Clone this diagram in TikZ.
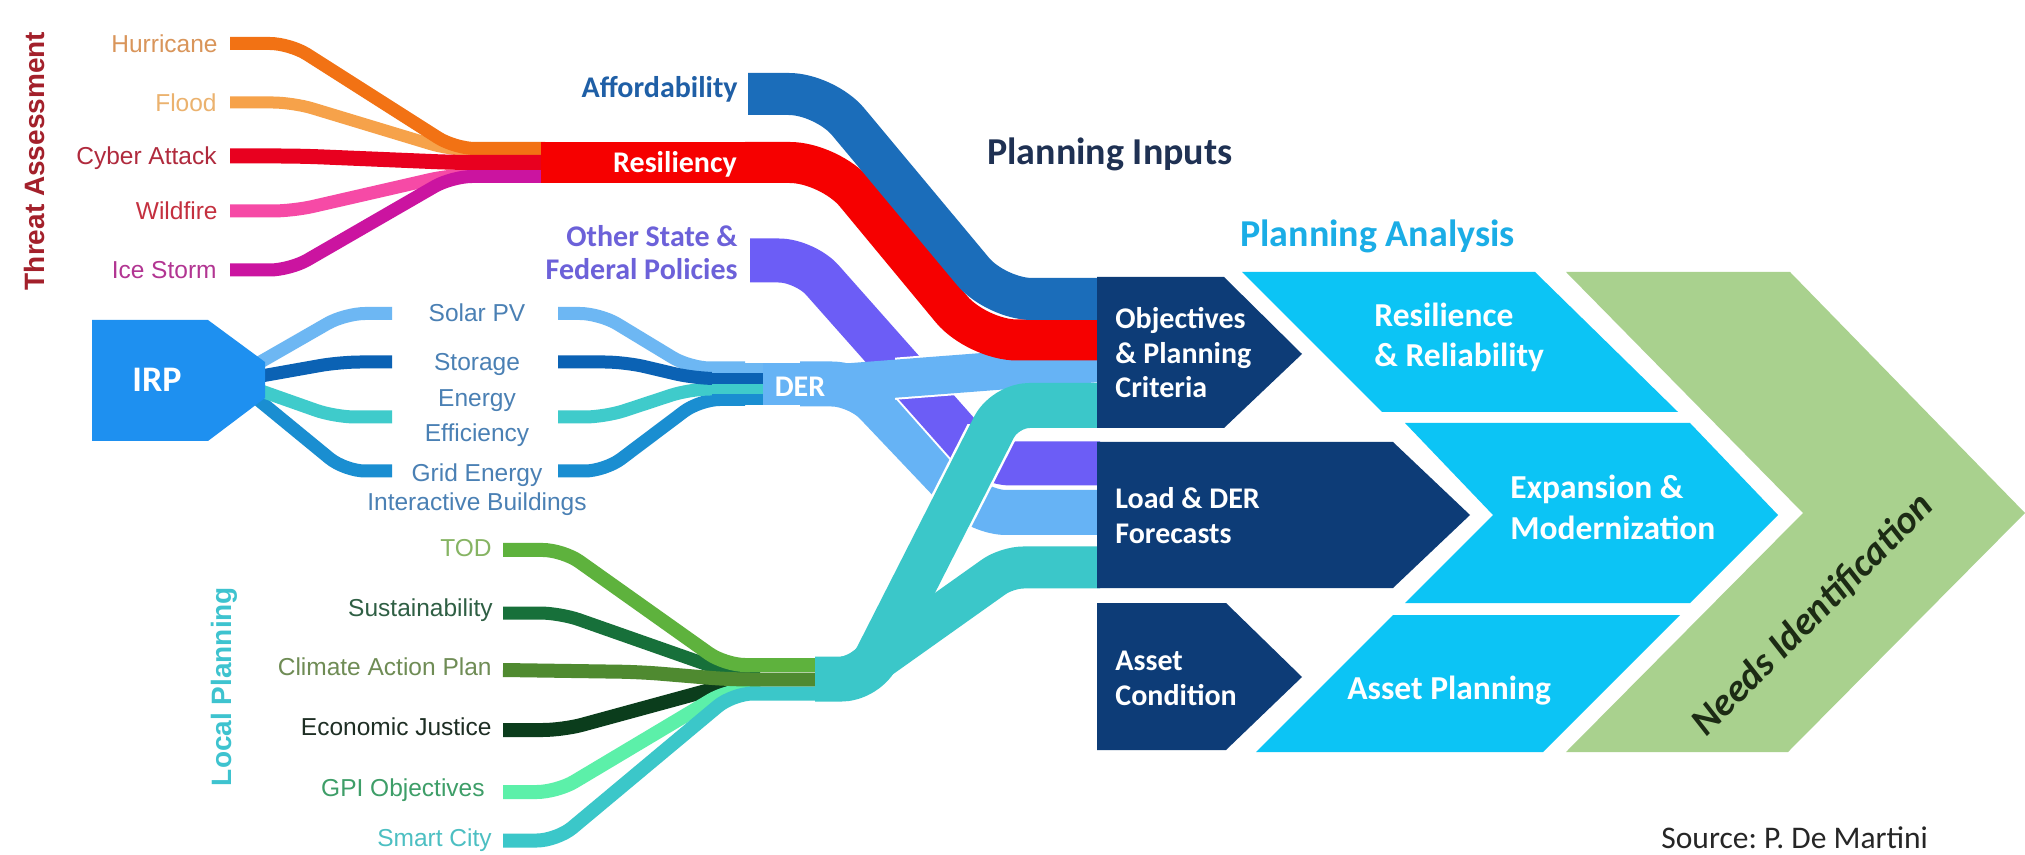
\documentclass[tikz,border=0pt]{standalone}
\usepackage{fontspec}
\setmainfont{Liberation Sans}
\newfontfamily\carl{Carlito}
\frenchspacing
\definecolor{cHurr}{HTML}{F27214}
\definecolor{cFlood}{HTML}{F6A24A}
\definecolor{cCyber}{HTML}{E8001F}
\definecolor{cWild}{HTML}{F64AA6}
\definecolor{cIce}{HTML}{CB14A0}
\definecolor{cRed}{HTML}{F60000}
\definecolor{cAfford}{HTML}{1B6DBA}
\definecolor{cPurple}{HTML}{6C5DF6}
\definecolor{cSolar}{HTML}{6DB7F3}
\definecolor{cStor}{HTML}{0B62B4}
\definecolor{cEE}{HTML}{3FCBCB}
\definecolor{cGrid}{HTML}{1A8ED1}
\definecolor{cDER}{HTML}{66B3F5}
\definecolor{cIRP}{HTML}{1E90F0}
\definecolor{cTOD}{HTML}{5EB23D}
\definecolor{cSust}{HTML}{17703A}
\definecolor{cClim}{HTML}{4F8A30}
\definecolor{cEcon}{HTML}{0B3D1C}
\definecolor{cGPI}{HTML}{5CF0A9}
\definecolor{cTeal}{HTML}{3BC7C9}
\definecolor{cNavy}{HTML}{0D3C77}
\definecolor{cCyan}{HTML}{0CC4F5}
\definecolor{cGreen}{HTML}{A9D18E}
\definecolor{tThreat}{HTML}{A3202B}
\definecolor{tHurr}{HTML}{D9955A}
\definecolor{tFlood}{HTML}{EBB26E}
\definecolor{tCyber}{HTML}{B02A3D}
\definecolor{tWild}{HTML}{C4303F}
\definecolor{tIce}{HTML}{B23592}
\definecolor{tAfford}{HTML}{1F5FA6}
\definecolor{tPolicy}{HTML}{6C61D9}
\definecolor{tDER}{HTML}{4A80B4}
\definecolor{tLocal}{HTML}{3EC3CF}
\definecolor{tTOD}{HTML}{86B463}
\definecolor{tSust}{HTML}{2F5F44}
\definecolor{tClim}{HTML}{6F8C55}
\definecolor{tEcon}{HTML}{1E2E24}
\definecolor{tGPI}{HTML}{3E9E68}
\definecolor{tSmart}{HTML}{4CBFC2}
\definecolor{tInputs}{HTML}{1F3153}
\definecolor{tAnalysis}{HTML}{1BADE6}
\definecolor{tNeeds}{HTML}{1C2B14}
\tikzset{
  band/.style={line cap=butt, line join=round},
  capc/.style={inner sep=0pt, text height=#1, text depth=0pt},
  lab/.style={font=\fontsize{12.25}{14}\selectfont, capc=8.77pt},
  sidetitle/.style={font=\bfseries\fontsize{14}{16}\selectfont, capc=10pt, rotate=90},
  inlab/.style={font=\carl\bfseries\fontsize{15}{18}\selectfont, capc=9.66pt},
  boxtxt/.style={font=\carl\bfseries\fontsize{15}{18}\selectfont, text=white, capc=9.66pt, anchor=west},
  cytxt/.style={font=\carl\bfseries\fontsize{16.75}{20}\selectfont, text=white, capc=10.8pt, anchor=west},
  bigtitle/.style={font=\carl\bfseries\fontsize{19}{22}\selectfont, capc=12.24pt, anchor=west},
}
\begin{document}
\begin{tikzpicture}[x=0.5pt,y=-0.5pt]
\fill[white] (0,0) rectangle (2025,855);
\path[use as bounding box] (0,0) rectangle (2025,855);

% ---------------- Threat assessment bands
\draw[band, cFlood, line width=6pt, rounded corners=10pt] (230,102.5) -- (293,102.5) -- (450,150) -- (485,150);
\draw[band, cWild, line width=6.5pt, rounded corners=10pt] (230,211) -- (293,211) -- (450,175) -- (485,175);
\draw[band, cHurr, line width=6.5pt, rounded corners=10pt] (230,43.5) -- (290,43.5) -- (455,148.5) -- (545,148.5);
\draw[band, cIce, line width=6.5pt, rounded corners=10pt] (230,270) -- (290,270) -- (452,176.5) -- (545,176.5);
\draw[band, cCyber, line width=7.5pt, rounded corners=10pt] (230,156) -- (300,156) -- (455,162.5) -- (545,162.5);
\fill[cRed] (541,142) rectangle (752,183);

% ---------------- IRP bands
\draw[band, cSolar, line width=6.5pt, rounded corners=10pt] (250,368) -- (345,313.5) -- (392,313.5);
\draw[band, cGrid, line width=6.5pt, rounded corners=10pt] (250,393) -- (345,471) -- (392,471);
\draw[band, cEE, line width=6.5pt, rounded corners=10pt] (250,387) -- (335,417) -- (392,417);
\draw[band, cStor, line width=6.5pt, rounded corners=10pt] (250,378) -- (340,362) -- (392,362);
\fill[cIRP] (92,320) -- (208,320) -- (265,362) -- (265,398) -- (208,441) -- (92,441) -- cycle;

% ---------------- to DER
\draw[band, cSolar, line width=6.5pt, rounded corners=10pt] (558,313.5) -- (600,313.5) -- (690,368) -- (745,368);
\draw[band, cGrid, line width=6.5pt, rounded corners=10pt] (558,471) -- (605,471) -- (700,399.5) -- (745,399.5);
\draw[band, cEE, line width=6.5pt, rounded corners=10pt] (558,417) -- (605,417) -- (690,389) -- (745,389);
\draw[band, cStor, line width=6.5pt, rounded corners=10pt] (558,362) -- (625,362) -- (695,378.5) -- (745,378.5);
\fill[cSolar] (712,363) rectangle (766,373.5);
\fill[cStor] (712,373.5) rectangle (766,384);
\fill[cEE] (712,384) rectangle (766,394.5);
\fill[cGrid] (712,394.5) rectangle (766,405);

% ---------------- Local planning bands
\draw[band, cSust, line width=6.5pt, rounded corners=10pt] (503,613) -- (560,613) -- (728,672) -- (760,672);
\draw[band, cEcon, line width=7pt, rounded corners=10pt] (503,730) -- (563,730) -- (728,685) -- (760,685);
\draw[band, cGPI, line width=7pt, rounded corners=10pt] (503,792) -- (557,792) -- (728,690) -- (760,690);
\draw[band, cTOD, line width=7pt, rounded corners=10pt] (503,550) -- (563,550) -- (725,665) -- (820,665);
\draw[band, cClim, line width=7pt, rounded corners=10pt] (503,670) -- (640,672) -- (730,679.5) -- (820,679.5);
\draw[band, cTeal, line width=7pt, rounded corners=10pt] (503,840.5) -- (557,840.5) -- (733,693.5) -- (820,693.5);
\fill[cTeal] (815,658) rectangle (845,700);

% ---------------- DER outputs
\draw[band, cDER, line width=22.5pt, rounded corners=13pt] (800,384) -- (858,384) -- (980,512.5) -- (1100,512.5);
\draw[band, white, line width=24pt, rounded corners=13pt] (750,260.5) -- (805,260.5) -- (985,463.5) -- (1100,463.5);
\draw[band, cPurple, line width=22pt, rounded corners=13pt] (750,260.5) -- (805,260.5) -- (985,463.5) -- (1100,463.5);
\begin{scope}
\clip (895,320) rectangle (990,430);
\draw[band, white, line width=21pt] (800,386) -- (1100,363);
\end{scope}
\draw[band, cDER, line width=19pt] (800,386) -- (1100,363);
\fill[cDER] (763,363) rectangle (852,405);

% ---------------- Resiliency & Affordability bands
\draw[band, cRed, line width=20.5pt, rounded corners=20pt] (745,162.5) -- (830,162.5) -- (977,340) -- (1100,340);
\draw[band, cAfford, line width=21pt, rounded corners=18pt] (748,94) -- (825,94) -- (996,299) -- (1100,299);

% ---------------- Local planning outputs
\draw[band, cTeal, line width=21pt, rounded corners=8pt] (815,679) -- (850,679) -- (1007,567.5) -- (1100,567.5);
\begin{scope}
\clip (900,425) rectangle (1060,545);
\draw[band, white, line width=25pt, rounded corners=12pt] (815,679) -- (866,679) -- (1005,405.5) -- (1100,405.5);
\end{scope}
\draw[band, cTeal, line width=22.5pt, rounded corners=12pt] (815,679) -- (866,679) -- (1005,405.5) -- (1100,405.5);

% ---------------- Planning input boxes
\fill[cNavy] (1097,277) -- (1224,277) -- (1302,354) -- (1224,428) -- (1097,428) -- cycle;
\fill[cNavy] (1097,442) -- (1393,442) -- (1470,515) -- (1393,588) -- (1097,588) -- cycle;
\fill[cNavy] (1097,603) -- (1226,603) -- (1302,677) -- (1226,750) -- (1097,750) -- cycle;

% ---------------- Planning analysis chevron
\fill[cCyan] (1242,272) -- (1535,272) -- (1678,412) -- (1382,412) -- cycle;
\fill[cCyan] (1405,423) -- (1690,423) -- (1778,515) -- (1690,603) -- (1405,603) -- (1493,515) -- cycle;
\fill[cCyan] (1393,615) -- (1680,615) -- (1543,752) -- (1256,752) -- cycle;
\fill[cGreen] (1566,272) -- (1790,272) -- (2025,513) -- (1788,752) -- (1566,752) -- (1803,513) -- cycle;

% ---------------- Texts
\node[sidetitle, text=tThreat] (tThreatA) at (34,161) {Threat Assessment};
\node[lab, text=tHurr, anchor=east] (lHurr) at (218,43.5) {Hurricane};
\node[lab, text=tFlood, anchor=east] (lFlood) at (217,102.5) {Flood};
\node[lab, text=tCyber, anchor=east] (lCyber) at (217,156) {Cyber Attack};
\node[lab, text=tWild, anchor=east] (lWild) at (218,211) {Wildfire};
\node[lab, text=tIce, anchor=east] (lIce) at (217,270) {Ice Storm};

\node[inlab, text=white, font=\carl\bfseries\fontsize{18}{20}\selectfont, capc=11.6pt] (lIRP) at (157,380) {IRP};
\node[lab, text=tDER] (lSolar) at (477,313) {Solar PV};
\node[lab, text=tDER] (lStor) at (477,362) {Storage};
\node[lab, text=tDER] (lEE1) at (477,398) {Energy};
\node[lab, text=tDER] (lEE2) at (477,433) {Efficiency};
\node[lab, text=tDER] (lGrid1) at (477,473) {Grid Energy};
\node[lab, text=tDER] (lGrid2) at (477,502) {Interactive Buildings};
\node[inlab, text=white] (lDER) at (800,387) {DER};

\node[sidetitle, text=tLocal] (tLocalP) at (221,686.5) {Local Planning};
\node[lab, text=tTOD, anchor=east] (lTOD) at (492,548) {TOD};
\node[lab, text=tSust, anchor=east] (lSust) at (493,608) {Sustainability};
\node[lab, text=tClim, anchor=east] (lClim) at (492,667) {Climate Action Plan};
\node[lab, text=tEcon, anchor=east] (lEcon) at (492,727) {Economic Justice};
\node[lab, text=tGPI, anchor=east] (lGPI) at (485,788) {GPI Objectives};
\node[lab, text=tSmart, anchor=east] (lSmart) at (492,838) {Smart City};

\node[inlab, text=tAfford, anchor=east] (lAfford) at (738,88) {Affordability};
\node[inlab, text=white] (lResil) at (675,163) {Resiliency};
\node[inlab, text=tPolicy, anchor=east] (lPol1) at (738,237) {Other State \&};
\node[inlab, text=tPolicy, anchor=east] (lPol2) at (738,270) {Federal Policies};

\node[bigtitle, text=tInputs] (tInputs) at (987,152) {Planning Inputs};
\node[bigtitle, text=tAnalysis] (tAnalysis) at (1240,234) {Planning Analysis};

\node[boxtxt] (bObj1) at (1115,319) {Objectives};
\node[boxtxt] (bObj2) at (1115,354) {\& Planning};
\node[boxtxt] (bObj3) at (1115,388) {Criteria};
\node[boxtxt] (bLoad1) at (1115,499) {Load \& DER};
\node[boxtxt] (bLoad2) at (1115,534) {Forecasts};
\node[boxtxt] (bAsset1) at (1115,661) {Asset};
\node[boxtxt] (bAsset2) at (1115,696) {Condition};

\node[cytxt] (cRes1) at (1374,316) {Resilience};
\node[cytxt] (cRes2) at (1374,356) {\& Reliability};
\node[cytxt] (cExp1) at (1510,488) {Expansion \&};
\node[cytxt] (cExp2) at (1510,529) {Modernization};
\node[cytxt] (cAsset) at (1347,689) {Asset Planning};

\node[font=\carl\bfseries\itshape\fontsize{19.5}{22}\selectfont, text=tNeeds, capc=12.56pt, rotate=45] (lNeeds) at (1812,614) {Needs Identification};
\node[font=\carl\fontsize{15.75}{18}\selectfont, text=black!85, capc=10.1pt, anchor=west] (lSource) at (1661,838) {Source: P. De Martini};
\end{tikzpicture}
\end{document}
